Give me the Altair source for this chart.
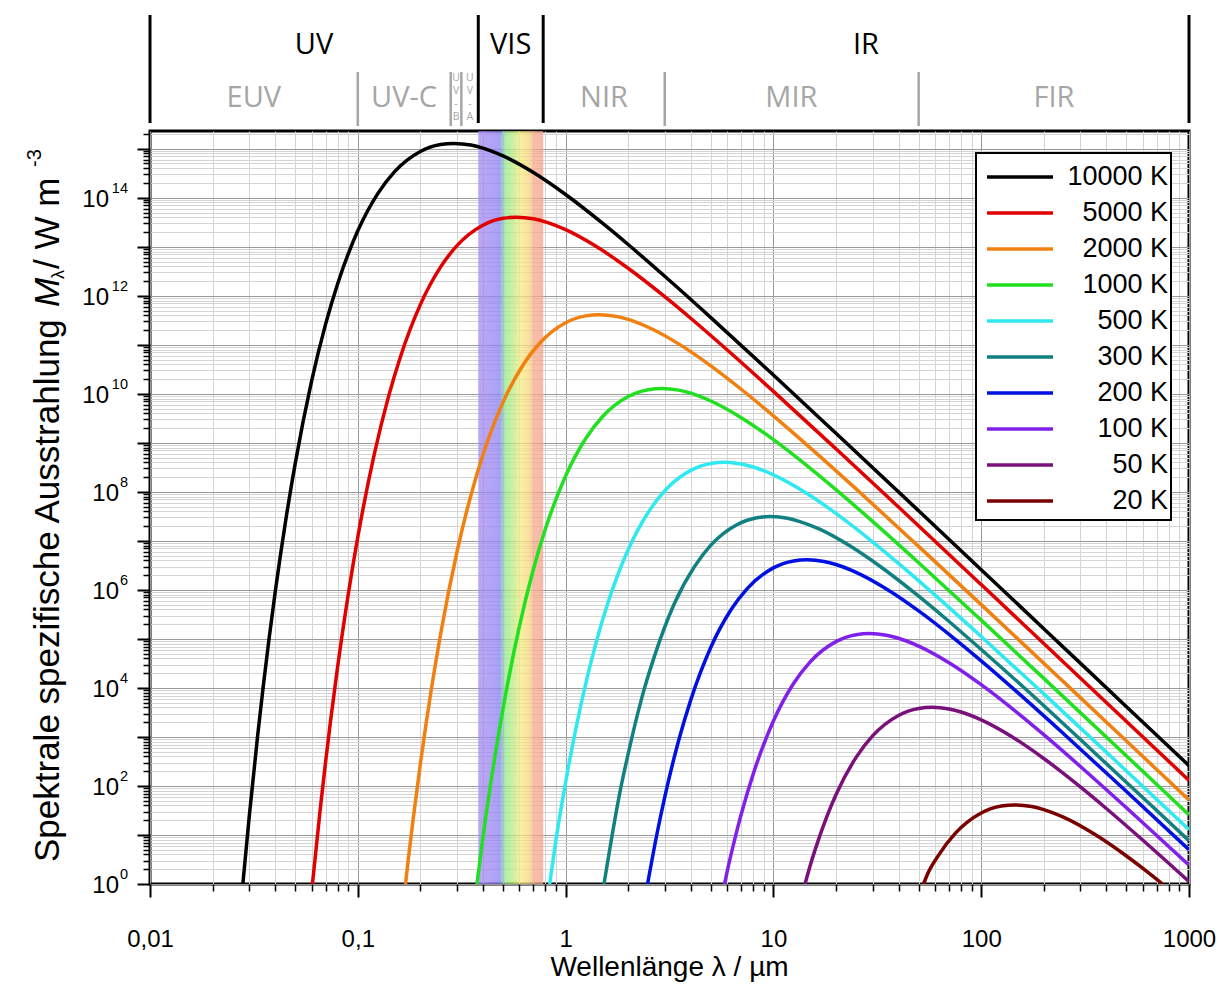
import altair as alt
import pandas as pd

# ---------------- data ----------------
temps = ["10000 K", "5000 K", "2000 K", "1000 K", "500 K", "300 K", "200 K", "100 K", "50 K", "20 K"]
line_colors = ["#000000", "#e00000", "#f08010", "#20e020", "#30e8f0", "#108080",
               "#0010e0", "#8020e8", "#7a107a", "#7a0000"]

# wavelength (µm) and log10 of M_lambda (W m^-3)
lam_10000 = [0.02798, 0.03, 0.033, 0.035, 0.04, 0.045, 0.05, 0.06, 0.07, 0.08, 0.1, 0.125, 0.15, 0.2, 0.25,
             0.29, 0.35, 0.4, 0.5, 0.7, 1.0, 1.5, 2.0, 3.0, 5.0, 10, 20, 50, 100, 200, 500, 1000]
lgm_10000 = [0.0, 1.358, 3.046, 4.000, 5.942, 7.421, 8.581, 10.268, 11.422, 12.247, 13.325, 14.089, 14.527,
             14.944, 15.085, 15.109, 15.075, 15.013, 14.853, 14.514, 14.066, 13.486, 13.046, 12.398, 11.555,
             10.383, 9.195, 7.613, 6.412, 5.209, 3.618, 2.415]

lam_5000 = [0.0605, 0.066, 0.07, 0.074, 0.08, 0.09, 0.1, 0.12, 0.14, 0.16, 0.2, 0.25, 0.3, 0.4, 0.5, 0.58,
            0.7, 0.8, 1.0, 1.4, 2.0, 3.0, 4.0, 6.0, 10, 20, 40, 100, 200, 400, 1000]
lgm_5000 = [0.0, 1.541, 2.495, 3.339, 4.437, 5.916, 7.076, 8.763, 9.917, 10.742, 11.820, 12.584, 13.022,
            13.439, 13.580, 13.604, 13.570, 13.508, 13.348, 13.009, 12.561, 11.981, 11.541, 10.893, 10.050,
            8.878, 7.690, 6.108, 4.907, 3.704, 2.113]

lam_2000 = [0.1697, 0.175, 0.185, 0.2, 0.225, 0.25, 0.3, 0.35, 0.4, 0.5, 0.625, 0.75, 1.0, 1.25, 1.45, 1.75,
            2.0, 2.5, 3.5, 5, 7.5, 10, 15, 25, 50, 100, 250, 500, 1000]
lgm_2000 = [0.0, 0.505, 1.349, 2.447, 3.926, 5.086, 6.773, 7.927, 8.752, 9.830, 10.594, 11.032, 11.449,
            11.590, 11.614, 11.580, 11.518, 11.358, 11.019, 10.571, 9.991, 9.551, 8.903, 8.060, 6.888, 5.700,
            4.118, 2.917, 1.714]

lam_1000 = [0.3743, 0.4, 0.45, 0.5, 0.6, 0.7, 0.8, 1.0, 1.25, 1.5, 2.0, 2.5, 2.9, 3.5, 4.0, 5, 7, 10, 15,
            20, 30, 50, 100, 200, 500, 1000]
lgm_1000 = [0.0, 0.942, 2.421, 3.581, 5.268, 6.422, 7.247, 8.325, 9.089, 9.527, 9.944, 10.085, 10.109,
            10.075, 10.013, 9.853, 9.514, 9.066, 8.486, 8.046, 7.398, 6.555, 5.383, 4.195, 2.613, 1.412]

lam_500 = [0.838, 0.9, 1.0, 1.2, 1.4, 1.6, 2.0, 2.5, 3.0, 4.0, 5.0, 5.8, 7.0, 8.0, 10, 14, 20, 30, 40, 60,
           100, 200, 400, 1000]
lgm_500 = [0.0, 0.916, 2.076, 3.763, 4.917, 5.742, 6.820, 7.584, 8.022, 8.439, 8.580, 8.604, 8.570, 8.508,
           8.348, 8.009, 7.561, 6.981, 6.541, 5.893, 5.050, 3.878, 2.690, 1.108]

lam_300 = [1.53, 1.67, 1.83, 2.0, 2.33, 2.67, 3.33, 4.17, 5.0, 6.67, 8.33, 9.67, 11.7, 13.3, 16.7, 23.3,
           33.3, 50, 66.7, 100, 167, 333, 667, 1000]
lgm_300 = [0.0, 0.967, 1.896, 2.654, 3.808, 4.633, 5.711, 6.475, 6.913, 7.330, 7.471, 7.495, 7.461, 7.399,
           7.239, 6.900, 6.452, 5.872, 5.432, 4.784, 3.941, 2.769, 1.581, 0.882]

lam_200 = [2.48, 2.75, 3.0, 3.5, 4.0, 5.0, 6.25, 7.5, 10, 12.5, 14.5, 17.5, 20, 25, 35, 50, 75, 100, 150,
           250, 500, 1000]
lgm_200 = [0.0, 1.015, 1.773, 2.927, 3.752, 4.830, 5.594, 6.032, 6.449, 6.590, 6.614, 6.580, 6.518, 6.358,
           6.019, 5.571, 4.991, 4.551, 3.903, 3.060, 1.888, 0.700]

lam_100 = [5.823, 6.0, 6.5, 7.0, 8.0, 10, 12.5, 15, 20, 25, 29, 35, 40, 50, 70, 100, 150, 200, 300, 500, 1000]
lgm_100 = [0.0, 0.268, 0.895, 1.422, 2.247, 3.325, 4.089, 4.527, 4.944, 5.085, 5.109, 5.075, 5.013, 4.853,
           4.514, 4.066, 3.486, 3.046, 2.398, 1.555, 0.383]

lam_50 = [14.2, 15, 16, 18, 20, 25, 30, 40, 50, 58, 70, 80, 100, 140, 200, 300, 400, 600, 1000]
lgm_50 = [0.0, 0.362, 0.742, 1.354, 1.820, 2.584, 3.022, 3.439, 3.580, 3.604, 3.570, 3.508, 3.348, 3.009,
          2.561, 1.981, 1.541, 0.893, 0.050]

lam_20 = [52.8, 55, 62.5, 75, 100, 125, 145, 175, 200, 250, 350, 500, 600, 745]
lgm_20 = [0.0, 0.190, 0.594, 1.032, 1.449, 1.590, 1.614, 1.580, 1.518, 1.358, 1.019, 0.571, 0.317, 0.0]

# spectral regions (µm)
region_lines_main = [0.01, 0.38, 0.78, 1000]
region_lines_sub = [0.1, 0.28, 0.315, 3, 50]
region_names_main = ["UV", "VIS", "IR"]
region_pos_main = [0.0616, 0.544, 27.9]
region_names_sub = ["EUV", "UV-C", "NIR", "MIR", "FIR"]
region_pos_sub = [0.0316, 0.167, 1.53, 12.2, 224]
region_names_small = ["U\nV\n-\nB", "U\nV\n-\nA"]
region_pos_small = [0.297, 0.346]
visible_band = [0.38, 0.78]

x_tick_values = [0.01, 0.1, 1, 10, 100, 1000]
x_tick_labels = ["0,01", "0,1", "1", "10", "100", "1000"]
y_label_exps = [0, 2, 4, 6, 8, 10, 12, 14]

# ---------------- tables ----------------
series = [lam_10000, lam_5000, lam_2000, lam_1000, lam_500, lam_300, lam_200, lam_100, lam_50, lam_20]
series_l = [lgm_10000, lgm_5000, lgm_2000, lgm_1000, lgm_500, lgm_300, lgm_200, lgm_100, lgm_50, lgm_20]
rows = []
for name, lams, lgs in zip(temps, series, series_l):
    for k, (a, b) in enumerate(zip(lams, lgs)):
        rows.append({"T": name, "lam": a, "M": 10 ** b, "k": k})
df = pd.DataFrame(rows)

ylab_df = pd.DataFrame({
    "v": [10.0 ** e for e in y_label_exps],
    "base": ["10"] * len(y_label_exps),
    "exp": [str(e) for e in y_label_exps],
    "nd": [len(str(e)) for e in y_label_exps],
})

W, H = 1039, 753
FONT = "Liberation Sans"

xs = alt.Scale(type="log", domain=[0.01, 1000], nice=False)
ys = alt.Scale(type="log", domain=[1, 2.3e15], nice=False)
cs = alt.Scale(domain=temps, range=line_colors)

x_minor = [k * 10.0 ** e for e in range(-2, 3) for k in range(2, 10)]
y_minor = [k * 10.0 ** e for e in range(0, 16) for k in range(2, 10) if k * 10.0 ** e < 2.3e15]
y_major = [10.0 ** e for e in range(0, 16)]

x_expr = ""
for v, lab in zip(x_tick_values, x_tick_labels):
    x_expr += f"datum.value < {v * 3:.6g} ? '{lab}' : "
x_expr += "''"

minor_x_axis = alt.Axis(orient="bottom", values=x_minor, grid=True, gridColor="#d4d4d4", gridWidth=1,
                        labels=False, domain=False, ticks=True, tickSize=7, tickWidth=1.5,
                        tickColor="black", title=None)
minor_y_axis = alt.Axis(orient="left", values=y_minor, grid=True, gridColor="#d4d4d4", gridWidth=1,
                        labels=False, domain=False, ticks=True, tickSize=7, tickWidth=1.5,
                        tickColor="black", title=None)
major_x_axis = alt.Axis(orient="bottom", values=x_tick_values, grid=True, gridColor="#9a9a9a", gridWidth=1,
                        labels=True, labelExpr=x_expr, labelFont=FONT, labelFontSize=24, labelColor="black",
                        labelPadding=30, labelFlush=False, labelOverlap=False, domain=False, ticks=True,
                        tickSize=13, tickWidth=2, tickColor="black", title=None)
major_y_axis = alt.Axis(orient="left", values=y_major, grid=True, gridColor="#9a9a9a", gridWidth=1,
                        labels=False, domain=False, ticks=True,
                        tickSize=13, tickWidth=2, tickColor="black", title=None)

minor = alt.Chart(df).mark_line(opacity=0).encode(
    x=alt.X("lam:Q", scale=xs, axis=minor_x_axis),
    y=alt.Y("M:Q", scale=ys, axis=minor_y_axis),
    detail="T:N",
)

band_df = pd.DataFrame({"a": [visible_band[0]], "b": [visible_band[1]]})
grad = alt.Gradient(
    gradient="linear", x1=0, x2=1, y1=0, y2=0,
    stops=[
        alt.GradientStop(offset=0.0, color="#a488f2"),
        alt.GradientStop(offset=0.2, color="#9c84f2"),
        alt.GradientStop(offset=0.33, color="#8484f6"),
        alt.GradientStop(offset=0.42, color="#95eb8b"),
        alt.GradientStop(offset=0.55, color="#c0eb80"),
        alt.GradientStop(offset=0.65, color="#f6eb80"),
        alt.GradientStop(offset=0.78, color="#f6d880"),
        alt.GradientStop(offset=0.86, color="#f6ab8b"),
        alt.GradientStop(offset=1.0, color="#f6a08b"),
    ],
)
band = alt.Chart(band_df).mark_rect(color=grad, opacity=0.75).encode(
    x=alt.X("a:Q", scale=xs, axis=None), x2="b:Q", y=alt.value(0), y2=alt.value(H)
)

main_lines = alt.Chart(pd.DataFrame({"lam": region_lines_main})).mark_rule(
    color="black", strokeWidth=3).encode(
    x=alt.X("lam:Q", scale=xs, axis=None), y=alt.value(-116), y2=alt.value(-8))
sub_lines = alt.Chart(pd.DataFrame({"lam": region_lines_sub})).mark_rule(
    color="#a6a6a6", strokeWidth=2.5).encode(
    x=alt.X("lam:Q", scale=xs, axis=None), y=alt.value(-59), y2=alt.value(-5))
main_text = alt.Chart(pd.DataFrame({"n": region_names_main, "p": region_pos_main})).mark_text(
    font="Open Sans", fontSize=29, color="black", baseline="middle", align="center").encode(
    x=alt.X("p:Q", scale=xs, axis=None), y=alt.value(-86), text="n:N")
sub_text = alt.Chart(pd.DataFrame({"n": region_names_sub, "p": region_pos_sub})).mark_text(
    font="Open Sans", fontSize=29, color="#a6a6a6", baseline="middle", align="center").encode(
    x=alt.X("p:Q", scale=xs, axis=None), y=alt.value(-33), text="n:N")
small_text = alt.Chart(pd.DataFrame({"n": region_names_small, "p": region_pos_small})).mark_text(
    font="Open Sans", fontSize=10.5, color="#a6a6a6", baseline="top", align="center",
    lineBreak="\n", lineHeight=13).encode(
    x=alt.X("p:Q", scale=xs, axis=None), y=alt.value(-58), text="n:N")

curves = alt.Chart(df).mark_line(strokeWidth=3.5, interpolate="monotone", clip=True).encode(
    x=alt.X("lam:Q", scale=xs, axis=major_x_axis),
    y=alt.Y("M:Q", scale=ys, axis=major_y_axis),
    color=alt.Color("T:N", scale=cs, legend=None),
    order="k:Q",
)

# y tick labels "10" with raised exponent
ylab_y = alt.Y("v:Q", scale=ys, axis=None)
ylab_base1 = alt.Chart(ylab_df).transform_filter("datum.nd == 1").mark_text(
    font=FONT, fontSize=24, align="right", baseline="middle", color="black", dy=2).encode(
    x=alt.value(-31), y=ylab_y, text="base:N")
ylab_base2 = alt.Chart(ylab_df).transform_filter("datum.nd == 2").mark_text(
    font=FONT, fontSize=24, align="right", baseline="middle", color="black", dy=2).encode(
    x=alt.value(-41), y=ylab_y, text="base:N")
ylab_exp = alt.Chart(ylab_df).mark_text(
    font=FONT, fontSize=14.5, align="right", baseline="middle", color="black", dy=-9).encode(
    x=alt.value(-22), y=ylab_y, text="exp:N")

# legend drawn by hand (right-aligned labels)
leg_df = pd.DataFrame({"T": temps})
ly = alt.Y("T:N", scale=alt.Scale(type="point", domain=temps, range=[46, 370], padding=0), axis=None)
leg_box = alt.Chart(pd.DataFrame({"a": [0]})).mark_rect(
    fill="white", stroke="black", strokeWidth=2).encode(
    x=alt.value(826), x2=alt.value(1021), y=alt.value(22), y2=alt.value(389))
leg_lines = alt.Chart(leg_df).mark_rule(strokeWidth=3.5).encode(
    x=alt.value(837), x2=alt.value(903), y=ly, color=alt.Color("T:N", scale=cs, legend=None))
leg_text = alt.Chart(leg_df).mark_text(
    font=FONT, fontSize=27, align="right", baseline="middle", color="black").encode(
    x=alt.value(1018), y=ly, text="T:N")

# axis titles
one = pd.DataFrame({"a": [0]})
x_title = alt.Chart(one).mark_text(
    text="Wellenlänge \u03bb / \u00b5m", font=FONT, fontSize=28, align="center", baseline="middle",
    color="black").encode(x=alt.value(W / 2), y=alt.value(837))
yt_a = alt.Chart(one).mark_text(
    text="Spektrale spezifische Ausstrahlung", font=FONT, fontSize=35, angle=270, align="left",
    baseline="middle", color="black").encode(x=alt.value(-102), y=alt.value(731))
yt_m = alt.Chart(one).mark_text(
    text="M", font=FONT, fontSize=35, fontStyle="italic", angle=270, align="left",
    baseline="middle", color="black").encode(x=alt.value(-102), y=alt.value(176))
yt_l = alt.Chart(one).mark_text(
    text="\u03bb", font=FONT, fontSize=18, angle=270, align="left",
    baseline="middle", color="black").encode(x=alt.value(-91), y=alt.value(148))
yt_u = alt.Chart(one).mark_text(
    text=" / W m", font=FONT, fontSize=35, angle=270, align="left",
    baseline="middle", color="black").encode(x=alt.value(-102), y=alt.value(138))
yt_e = alt.Chart(one).mark_text(
    text="-3", font=FONT, fontSize=20, angle=270, align="left",
    baseline="middle", color="black").encode(x=alt.value(-115), y=alt.value(36))

chart = alt.layer(
    minor, band, main_lines, sub_lines, main_text, sub_text, small_text, curves,
    ylab_base1, ylab_base2, ylab_exp,
    leg_box, leg_lines, leg_text, x_title, yt_a, yt_m, yt_l, yt_u, yt_e,
).resolve_scale(y="independent").resolve_axis(x="independent", y="independent").properties(
    width=W, height=H,
    padding={"left": 150, "top": 131, "right": 39, "bottom": 101},
    autosize=alt.AutoSizeParams(type="none"),
    background="white",
).configure_view(stroke="black", strokeWidth=3)

chart.save("out.html", embed_options={"renderer": "svg", "actions": False})
